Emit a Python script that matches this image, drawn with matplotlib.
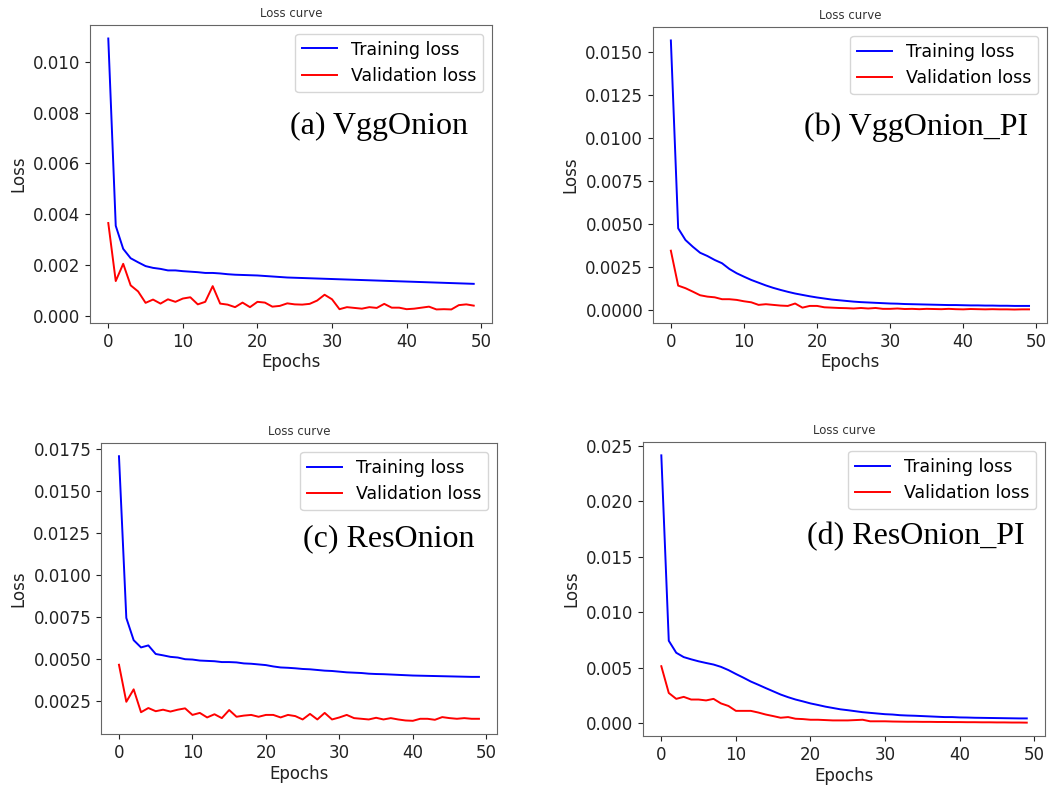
import matplotlib
matplotlib.use("Agg")
import matplotlib.pyplot as plt

# epochs and loss values
epochs = list(range(50))

vgg_train = [0.01093, 0.00354, 0.00263, 0.00226, 0.00210, 0.00195, 0.00188, 0.00184, 0.00178, 0.00178,
             0.00175, 0.00173, 0.00171, 0.00168, 0.00168, 0.00166, 0.00163, 0.00161, 0.00160, 0.00159,
             0.00158, 0.00156, 0.00154, 0.00152, 0.00150, 0.00149, 0.00148, 0.00147, 0.00146, 0.00145,
             0.00144, 0.00143, 0.00142, 0.00141, 0.00140, 0.00139, 0.00138, 0.00137, 0.00136, 0.00135,
             0.00134, 0.00133, 0.00132, 0.00131, 0.00130, 0.00129, 0.00128, 0.00127, 0.00126, 0.00125]
vgg_val = [0.00365, 0.00136, 0.00204, 0.00119, 0.00095, 0.00050, 0.00063, 0.00047, 0.00064, 0.00054,
           0.00067, 0.00072, 0.00044, 0.00054, 0.00116, 0.00047, 0.00043, 0.00033, 0.00051, 0.00033,
           0.00054, 0.00051, 0.00035, 0.00038, 0.00048, 0.00044, 0.00043, 0.00046, 0.00059, 0.00082,
           0.00064, 0.00025, 0.00033, 0.00030, 0.00027, 0.00033, 0.00030, 0.00046, 0.00031, 0.00031,
           0.00025, 0.00027, 0.00031, 0.00035, 0.00024, 0.00025, 0.00024, 0.00041, 0.00044, 0.00039]

vggpi_train = [0.01568, 0.00476, 0.00408, 0.00369, 0.00334, 0.00315, 0.00292, 0.00273, 0.00240, 0.00215,
               0.00195, 0.00176, 0.00160, 0.00144, 0.00130, 0.00118, 0.00107, 0.00097, 0.00089, 0.00081,
               0.00074, 0.00068, 0.00062, 0.00058, 0.00054, 0.00050, 0.00047, 0.00045, 0.00043, 0.00041,
               0.00039, 0.00038, 0.00036, 0.00035, 0.00034, 0.00033, 0.00032, 0.00031, 0.00030, 0.00030,
               0.00029, 0.00028, 0.00028, 0.00027, 0.00027, 0.00026, 0.00026, 0.00025, 0.00025, 0.00025]
vggpi_val = [0.00346, 0.00143, 0.00128, 0.00108, 0.00087, 0.00079, 0.00075, 0.00064, 0.00064, 0.00060,
             0.00052, 0.00046, 0.00031, 0.00035, 0.00031, 0.00027, 0.00025, 0.00039, 0.00015, 0.00025,
             0.00025, 0.00017, 0.00015, 0.00013, 0.00012, 0.00010, 0.00013, 0.00010, 0.00013, 0.00008,
             0.00008, 0.00010, 0.00007, 0.00008, 0.00006, 0.00008, 0.00007, 0.00006, 0.00008, 0.00006,
             0.00005, 0.00007, 0.00006, 0.00005, 0.00006, 0.00005, 0.00005, 0.00004, 0.00005, 0.00005]

res_train = [0.01705, 0.00744, 0.00612, 0.00569, 0.00581, 0.00530, 0.00522, 0.00513, 0.00509, 0.00499,
             0.00497, 0.00491, 0.00489, 0.00487, 0.00482, 0.00482, 0.00480, 0.00474, 0.00472, 0.00468,
             0.00464, 0.00456, 0.00450, 0.00448, 0.00445, 0.00441, 0.00439, 0.00435, 0.00431, 0.00429,
             0.00425, 0.00421, 0.00419, 0.00417, 0.00413, 0.00411, 0.00410, 0.00408, 0.00406, 0.00404,
             0.00402, 0.00401, 0.00400, 0.00399, 0.00398, 0.00397, 0.00396, 0.00395, 0.00394, 0.00394]
res_val = [0.00466, 0.00246, 0.00320, 0.00184, 0.00209, 0.00190, 0.00199, 0.00188, 0.00199, 0.00207,
           0.00168, 0.00180, 0.00153, 0.00172, 0.00149, 0.00197, 0.00157, 0.00164, 0.00168, 0.00157,
           0.00168, 0.00168, 0.00153, 0.00168, 0.00161, 0.00141, 0.00174, 0.00141, 0.00180, 0.00141,
           0.00153, 0.00168, 0.00149, 0.00145, 0.00141, 0.00151, 0.00141, 0.00149, 0.00141, 0.00135,
           0.00133, 0.00145, 0.00145, 0.00139, 0.00155, 0.00149, 0.00145, 0.00149, 0.00145, 0.00145]

respi_train = [0.02412, 0.00743, 0.00635, 0.00596, 0.00576, 0.00558, 0.00543, 0.00529, 0.00508, 0.00479,
               0.00444, 0.00411, 0.00376, 0.00347, 0.00317, 0.00288, 0.00259, 0.00235, 0.00214, 0.00197,
               0.00179, 0.00165, 0.00150, 0.00138, 0.00126, 0.00118, 0.00109, 0.00100, 0.00094, 0.00088,
               0.00082, 0.00079, 0.00073, 0.00070, 0.00068, 0.00065, 0.00062, 0.00059, 0.00056, 0.00056,
               0.00053, 0.00052, 0.00050, 0.00049, 0.00048, 0.00047, 0.00046, 0.00045, 0.00044, 0.00044]
respi_val = [0.00514, 0.00273, 0.00220, 0.00238, 0.00214, 0.00214, 0.00206, 0.00220, 0.00179, 0.00156,
             0.00112, 0.00112, 0.00112, 0.00097, 0.00079, 0.00065, 0.00050, 0.00056, 0.00041, 0.00038,
             0.00032, 0.00032, 0.00029, 0.00026, 0.00026, 0.00026, 0.00029, 0.00032, 0.00018, 0.00018,
             0.00018, 0.00016, 0.00015, 0.00014, 0.00014, 0.00013, 0.00013, 0.00012, 0.00012, 0.00011,
             0.00011, 0.00010, 0.00010, 0.00009, 0.00009, 0.00008, 0.00008, 0.00007, 0.00007, 0.00006]

panel_names = ["(a) VggOnion", "(b) VggOnion_PI", "(c) ResOnion", "(d) ResOnion_PI"]

fig = plt.figure(figsize=(10.54, 7.87), dpi=100)

# axes rectangles (left, bottom, width, height) in figure fractions
rects = [
    [0.0854, 0.5896, 0.3814, 0.3787],
    [0.6195, 0.5896, 0.3738, 0.3761],
    [0.0958, 0.0673, 0.3757, 0.3698],
    [0.6101, 0.0648, 0.3814, 0.3736],
]
# where the (x) label text sits (right edge, vertical centre) in axes fractions
label_pos = [(0.94, 0.658), (0.952, 0.662), (0.944, 0.672), (0.950, 0.679)]

series = [(vgg_train, vgg_val), (vggpi_train, vggpi_val),
          (res_train, res_val), (respi_train, respi_val)]

for i in range(4):
    ax = fig.add_axes(rects[i])
    tr, va = series[i]
    ax.plot(epochs, tr, color="blue", lw=1.4, label="Training loss")
    ax.plot(epochs, va, color="red", lw=1.4, label="Validation loss")
    ax.set_title("Loss curve", fontsize=8.5, color="#333333")
    ax.set_xlabel("Epochs", fontsize=12, color="#222222", labelpad=2)
    ax.set_ylabel("Loss", fontsize=12, color="#222222")
    ax.tick_params(labelsize=12, colors="#222222")
    for sp in ax.spines.values():
        sp.set_color("#666666")
    ax.legend(loc="upper right", fontsize=12.5)
    ax.text(label_pos[i][0], label_pos[i][1], panel_names[i], transform=ax.transAxes,
            ha="right", va="center", fontsize=23, family="Liberation Serif")

fig.savefig("out.png", dpi=100)
